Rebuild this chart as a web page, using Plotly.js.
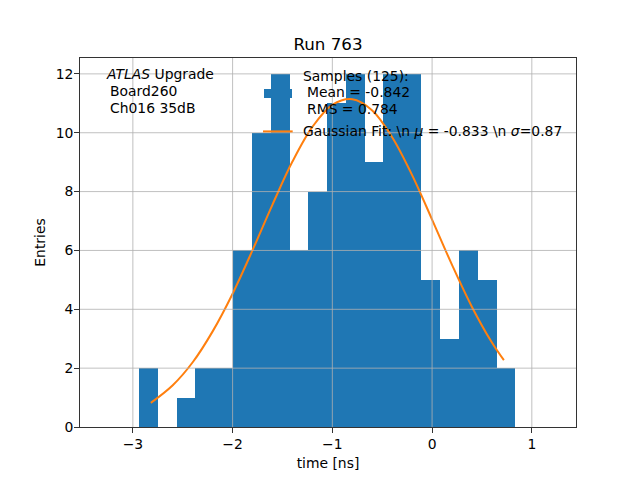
<!DOCTYPE html>
<html>
<head>
<meta charset="utf-8">
<script src="https://cdn.plot.ly/plotly-3.0.1.min.js"></script>
<style>
  html, body { margin: 0; padding: 0; background: #fff; }
  #GRAPH { width: 640px; height: 480px; }
</style>
</head>
<body>
<div id="GRAPH"></div>
<script>
// histogram bins (centres in ns) and counts
var binCentres = [-2.841, -2.652, -2.464, -2.276, -2.087, -1.899, -1.710, -1.522, -1.334, -1.145,
                  -0.957, -0.768, -0.580, -0.392, -0.203, -0.015, 0.174, 0.362, 0.550, 0.739];
var binCounts = [2, 0, 1, 2, 2, 6, 10, 12, 6, 8, 11, 12, 9, 12, 12, 5, 3, 6, 5, 2];
var binWidth = 0.1884;

// gaussian fit curve
var fitX = [-2.82, -2.6, -2.4, -2.2, -2.0, -1.8, -1.6, -1.4, -1.2, -1.0,
            -0.8, -0.6, -0.4, -0.2, 0.0, 0.2, 0.4, 0.6, 0.72];
var fitY = [0.82, 1.42, 2.2, 3.25, 4.53, 6.01, 7.56, 9.02, 10.2, 10.95,
            11.14, 10.76, 9.85, 8.56, 7.05, 5.51, 4.08, 2.87, 2.27];

var xTicks = [-3, -2, -1, 0, 1];
var yTicks = [0, 2, 4, 6, 8, 10, 12];

var BLUE = '#1f77b4';
var ORANGE = '#ff7f0e';
var GRID = '#b0b0b0';
var FONT = 'DejaVu Sans, sans-serif';

var traces = [
  {
    type: 'bar',
    x: binCentres,
    y: binCounts,
    width: binWidth + 0.005, // tiny overlap hides the antialias seams between bins
    marker: { color: BLUE, line: { width: 0 } },
    showlegend: false
  },
  {
    type: 'scatter',
    mode: 'lines',
    x: fitX,
    y: fitY,
    line: { color: ORANGE, width: 2, shape: 'spline' },
    showlegend: false
  }
];

// grid lines drawn on top of the bars, like matplotlib
var shapes = [];
for (var i = 0; i < xTicks.length; i++) {
  shapes.push({ type: 'line', layer: 'above', xref: 'x', yref: 'paper',
    x0: xTicks[i], x1: xTicks[i], y0: 0, y1: 1, line: { color: GRID, width: 0.8 } });
}
for (var j = 1; j < yTicks.length; j++) {
  shapes.push({ type: 'line', layer: 'above', xref: 'paper', yref: 'y',
    x0: 0, x1: 1, y0: yTicks[j], y1: yTicks[j], line: { color: GRID, width: 0.8 } });
}
// legend keys
shapes.push({ type: 'rect', layer: 'above', xref: 'paper', yref: 'paper',
  x0: 0.371, x1: 0.4274, y0: 0.8916, y1: 0.916, fillcolor: BLUE, line: { width: 0 } });
shapes.push({ type: 'line', layer: 'above', xref: 'paper', yref: 'paper',
  x0: 0.369, x1: 0.4288, y0: 0.8011, y1: 0.8011, line: { color: ORANGE, width: 2 } });

function note(text, x, y) {
  return { text: text, xref: 'paper', yref: 'paper', x: x, y: y,
    xanchor: 'left', yanchor: 'middle', showarrow: false,
    font: { family: FONT, size: 13.9, color: '#000' } };
}

var annotations = [
  note('<i>ATLAS</i> Upgrade', 0.0484, 0.9575),
  note('Board260', 0.0559, 0.9114),
  note('Ch016 35dB', 0.0559, 0.8653),
  note('Samples (125):', 0.4462, 0.952),
  note('Mean = -0.842', 0.4537, 0.9087),
  note('RMS = 0.784', 0.4537, 0.8626),
  note('Gaussian Fit: \\n <i>μ</i> = -0.833 \\n <i>σ</i>=0.87', 0.4462, 0.8016)
];

var layout = {
  width: 640,
  height: 480,
  paper_bgcolor: '#fff',
  plot_bgcolor: '#fff',
  font: { family: FONT, size: 13.9, color: '#000' },
  title: { text: 'Run 763', font: { family: FONT, size: 16.7, color: '#000' },
    x: 0.5125, xanchor: 'center', y: 0.908, yref: 'container', yanchor: 'middle' },
  margin: { l: 80, r: 64, t: 58, b: 53, pad: 0 },
  bargap: 0,
  showlegend: false,
  hovermode: false,
  xaxis: {
    range: [-3.53, 1.443],
    tickvals: xTicks,
    ticks: 'outside', ticklen: 5, tickwidth: 0.8, tickcolor: '#000',
    showgrid: false, zeroline: false,
    showline: true, mirror: true, linecolor: '#000', linewidth: 0.8,
    title: { text: 'time [ns]', standoff: 6, font: { family: FONT, size: 13.9 } }
  },
  yaxis: {
    range: [0, 12.54],
    tickvals: yTicks,
    ticks: 'outside', ticklen: 5, tickwidth: 0.8, tickcolor: '#000',
    ticklabelstandoff: -2,
    showgrid: false, zeroline: false,
    showline: true, mirror: true, linecolor: '#000', linewidth: 0.8,
    title: { text: 'Entries', standoff: 6, font: { family: FONT, size: 13.9 } }
  },
  shapes: shapes,
  annotations: annotations
};

Plotly.newPlot('GRAPH', traces, layout, { displayModeBar: false, staticPlot: true });
</script>
</body>
</html>
